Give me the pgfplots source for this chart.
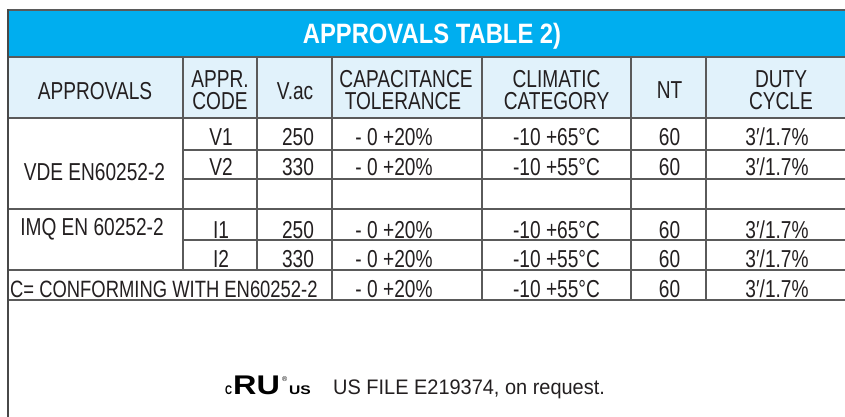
\documentclass[border=0pt]{standalone}
\usepackage{pgfplots}
\pgfplotsset{compat=1.18}
\usepackage{fontspec}
\setmainfont{Liberation Sans}[FakeStretch=0.78]
\newfontfamily\titlefont{Liberation Sans}[FakeStretch=0.85]
\newfontfamily\footfont{Liberation Sans}[FakeStretch=0.95]
\newfontfamily\logofont{Liberation Sans}
\definecolor{titlebg}{HTML}{00AEEF}
\definecolor{headbg}{HTML}{E1F2FB}
\definecolor{gridc}{HTML}{5A5A5A}
\definecolor{txt}{HTML}{231F20}
\tikzset{cell/.style={anchor=base,text=txt,font=\fontsize{24.5}{28}\selectfont}}
\pgfplotsset{ln/.style={gridc,line width=1.2pt,forget plot}}
\begin{document}
\begin{tikzpicture}
\begin{axis}[width=845pt,height=416pt,scale only axis,
  xmin=0,xmax=845,ymin=0,ymax=416,y dir=reverse,
  hide axis,clip=true]
\addplot[draw=none] coordinates {(0,0)(845,416)};
% backgrounds
\addplot[fill=titlebg,draw=none] coordinates {(8,10)(846,10)(846,57)(8,57)} -- cycle;
\addplot[fill=headbg,draw=none] coordinates {(8,57)(846,57)(846,118)(8,118)} -- cycle;
% horizontal lines
\addplot[ln] coordinates {(8,10)(846,10)};
\addplot[ln] coordinates {(8,57)(846,57)};
\addplot[ln] coordinates {(8,118)(846,118)};
\addplot[ln] coordinates {(183,150)(846,150)};
\addplot[ln] coordinates {(183,179)(846,179)};
\addplot[ln] coordinates {(8,209)(846,209)};
\addplot[ln] coordinates {(183,240)(846,240)};
\addplot[ln] coordinates {(8,270)(846,270)};
\addplot[ln] coordinates {(8,300)(846,300)};
% vertical lines
\addplot[ln] coordinates {(183,57)(183,270)};
\addplot[ln] coordinates {(257,57)(257,270)};
\addplot[ln] coordinates {(332,57)(332,300)};
\addplot[ln] coordinates {(482,57)(482,300)};
\addplot[ln] coordinates {(631,57)(631,300)};
\addplot[ln] coordinates {(706,57)(706,300)};
\addplot[gridc!80!black,line width=1.8pt] coordinates {(8,9.4)(8,417)};
% title
\node[anchor=base,text=white,font=\titlefont\bfseries\fontsize{28}{32}\selectfont] at (axis cs:432,43) {APPROVALS TABLE 2)};
% header
\node[cell] at (axis cs:95,99) {APPROVALS};
\node[cell] at (axis cs:220,87) {APPR.};
\node[cell] at (axis cs:220,109.5) {CODE};
\node[cell] at (axis cs:295,99) {V.ac};
\node[cell] at (axis cs:406,87) {CAPACITANCE};
\node[cell] at (axis cs:403,109.5) {TOLERANCE};
\node[cell] at (axis cs:556.5,87) {CLIMATIC};
\node[cell] at (axis cs:556.5,109.5) {CATEGORY};
\node[cell] at (axis cs:669.5,98) {NT};
\node[cell] at (axis cs:781,87) {DUTY};
\node[cell] at (axis cs:781,109.5) {CYCLE};
% rows
\node[cell] at (axis cs:94.5,180) {VDE EN60252-2};
\node[cell] at (axis cs:92,235) {IMQ EN 60252-2};
\node[cell,anchor=base west,inner sep=0pt,font=\fontsize{23.6}{28}\selectfont] at (axis cs:10,297) {C= CONFORMING WITH EN60252-2};
\node[cell] at (axis cs:221,145) {V1};
\node[cell] at (axis cs:221,175) {V2};
\node[cell] at (axis cs:221,238) {I1};
\node[cell] at (axis cs:221,267) {I2};
\node[cell] at (axis cs:298,145) {250};
\node[cell] at (axis cs:298,175) {330};
\node[cell] at (axis cs:298,238) {250};
\node[cell] at (axis cs:298,267) {330};
\node[cell] at (axis cs:394,145) {- 0 +20\%};
\node[cell] at (axis cs:394,175) {- 0 +20\%};
\node[cell] at (axis cs:394,238) {- 0 +20\%};
\node[cell] at (axis cs:394,267) {- 0 +20\%};
\node[cell] at (axis cs:394,297) {- 0 +20\%};
\node[cell] at (axis cs:556.5,145) {-10 +65°C};
\node[cell] at (axis cs:556.5,175) {-10 +55°C};
\node[cell] at (axis cs:556.5,238) {-10 +65°C};
\node[cell] at (axis cs:556.5,267) {-10 +55°C};
\node[cell] at (axis cs:556.5,297) {-10 +55°C};
\node[cell] at (axis cs:669.5,145) {60};
\node[cell] at (axis cs:669.5,175) {60};
\node[cell] at (axis cs:669.5,238) {60};
\node[cell] at (axis cs:669.5,267) {60};
\node[cell] at (axis cs:669.5,297) {60};
\node[cell] at (axis cs:777,145) {3′/1.7\%};
\node[cell] at (axis cs:777,175) {3′/1.7\%};
\node[cell] at (axis cs:777,238) {3′/1.7\%};
\node[cell] at (axis cs:777,267) {3′/1.7\%};
\node[cell] at (axis cs:777,297) {3′/1.7\%};
% footer: UL mark
\node[anchor=base west,inner sep=0pt,font=\bfseries\fontsize{12.5}{14}\selectfont,text=black] at (axis cs:225,394) {C};
\node[anchor=base west,inner sep=0pt,font=\logofont\bfseries\fontsize{27}{28}\selectfont,text=black] at (axis cs:233,394.5) {\scalebox{1.2}[1]{RU}};
\node[anchor=base west,font=\logofont\fontsize{7}{8}\selectfont,text=black,inner sep=0pt] at (axis cs:282,381) {®};
\node[anchor=base west,inner sep=0pt,font=\logofont\bfseries\fontsize{12.5}{14}\selectfont,text=black] at (axis cs:289,394) {\scalebox{1.25}[1]{US}};
\node[anchor=base west,text=txt,font=\footfont\fontsize{21}{24}\selectfont,inner sep=0pt] at (axis cs:333,394) {US FILE E219374, on request.};
\end{axis}
\end{tikzpicture}
\end{document}
